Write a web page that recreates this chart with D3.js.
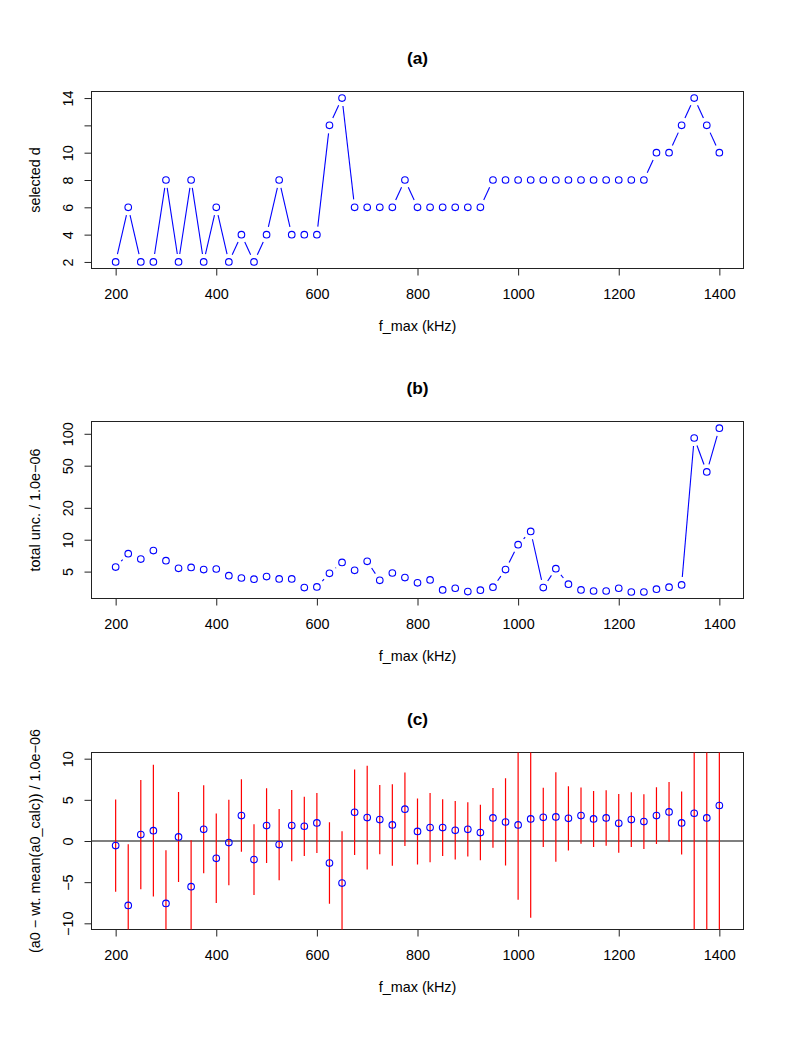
<!DOCTYPE html>
<html>
<head>
<meta charset="utf-8">
<script src="https://cdn.jsdelivr.net/npm/d3@7"></script>
<style>
  body { margin: 0; background: #fff; }
  svg text { font-family: "Liberation Sans", Arial, Helvetica, sans-serif; }
</style>
</head>
<body>
<svg id="chart" width="802" height="1038"></svg>
<script>
// f_max values (kHz)
var fmax = [200,225,250,275,300,325,350,375,400,425,450,475,500,525,550,575,600,625,650,675,
            700,725,750,775,800,825,850,875,900,925,950,975,1000,1025,1050,1075,1100,1125,1150,1175,
            1200,1225,1250,1275,1300,1325,1350,1375,1400];

// (a) selected d
var selectedD = [2,6,2,2,8,2,8,2,6,2, 4,2,4,8,4,4,4,12,14,6,
                 6,6,6,8,6,6,6,6,6,6, 8,8,8,8,8,8,8,8,8,8,
                 8,8,8,10,10,12,14,12,10];

// (b) total unc. / 1.0e-06
var totalUnc = [5.52,7.38,6.56,7.89,6.34,5.37,5.48,5.22,5.29,4.58,
                4.35,4.24,4.49,4.26,4.26,3.53,3.58,4.82,6.11,5.14,
                6.25,4.14,4.85,4.39,3.92,4.17,3.36,3.48,3.24,3.34,
                3.56,5.22,8.97,11.97,3.53,5.33,3.80,3.36,3.28,3.28,
                3.48,3.21,3.21,3.41,3.56,3.74,91.2,43.6,113];

// (c) a0 - wt. mean(a0_calc), / 1.0e-06, and error bar half widths
var resid = [-0.56,-7.82,0.78,1.26,-7.58,0.49,-5.55,1.42,-2.10,-0.19,
             3.09,-2.26,1.87,-0.44,1.87,1.79,2.19,-2.68,-5.11,3.49,
             2.85,2.60,1.95,3.86,1.16,1.63,1.63,1.30,1.42,1.02,
             2.80,2.31,1.95,2.68,2.88,2.92,2.76,3.09,2.68,2.80,
             2.15,2.60,2.36,3.09,3.53,2.19,3.37,2.80,4.31];
var errHalf = [5.6,7.42,6.64,8.0,6.45,5.47,5.64,5.35,5.43,5.2,
               4.4,4.3,4.55,4.33,4.33,3.6,3.65,4.95,6.29,5.2,
               6.3,4.2,4.95,4.46,4.0,4.2,3.45,3.55,3.3,3.37,
               3.63,5.3,9.08,12.0,3.6,5.44,3.9,3.42,3.4,3.37,
               3.57,3.33,3.33,3.45,3.63,3.83,91,44,113];

// tick values / labels
var xTicks = [200,400,600,800,1000,1200,1400];
var aTicks = [2,4,6,8,10,12,14];
var aTickLabels = ["2","4","6","8","10","","14"];
var bTicks = [5,10,20,50,100];
var cTicks = [-10,-5,0,5,10];
var cTickLabels = ["\u221210","\u22125","0","5","10"];

var svg = d3.select("#chart");
var left = 91.5, right = 743.5, ph = 177;
var tops = [91.5, 421.5, 752.5];
var gap = 8;
var fs = 14.4;

var x = d3.scaleLinear().domain([152, 1448]).range([left, right]);

function panel(i, y, ticks, labels, title, ylab) {
    var top = tops[i], bottom = top + ph;
    var g = svg.append("g");

    g.append("clipPath").attr("id", "clip" + i)
        .append("rect").attr("x", left).attr("y", top)
        .attr("width", right - left).attr("height", ph);

    // x axis
    var xa = g.append("g").attr("transform", "translate(0," + bottom + ")")
        .call(d3.axisBottom(x).tickValues(xTicks).tickSize(7)
            .tickFormat(d3.format("d")));
    xa.select(".domain").remove();
    xa.selectAll("line").attr("stroke", "#222");
    xa.selectAll("text").attr("font-size", fs).attr("fill", "#000")
        .attr("y", 30.5).attr("dy", null);

    // y axis
    var ya = g.append("g").attr("transform", "translate(" + left + ",0)")
        .call(d3.axisLeft(y).tickValues(ticks).tickSize(7)
            .tickFormat(function (d, k) { return labels[k]; }));
    ya.select(".domain").remove();
    ya.selectAll("line").attr("stroke", "#222");
    ya.selectAll("text").attr("font-size", fs).attr("fill", "#000")
        .attr("x", null)
        .attr("text-anchor", "middle")
        .attr("transform", "translate(-24,0) rotate(-90)")
        .attr("dy", "0.35em");

    g.append("rect").attr("x", left).attr("y", top)
        .attr("width", right - left).attr("height", ph)
        .attr("fill", "none").attr("stroke", "#222").attr("stroke-width", 1);

    g.append("text").attr("x", (left + right) / 2).attr("y", top - 28)
        .attr("text-anchor", "middle").attr("font-size", fs * 1.2)
        .attr("font-weight", "bold").text(title);

    g.append("text").attr("x", (left + right) / 2).attr("y", bottom + 62.5)
        .attr("text-anchor", "middle").attr("font-size", fs).text("f_max (kHz)");

    g.append("text")
        .attr("transform", "translate(39.5," + ((top + bottom) / 2) + ") rotate(-90)")
        .attr("text-anchor", "middle").attr("font-size", fs).text(ylab);

    return g;
}

// type "b": segments between points with a gap round each point
function drawB(g, vals, y) {
    var pts = fmax.map(function (f, k) { return [x(f), y(vals[k])]; });
    var segs = [];
    for (var k = 0; k < pts.length - 1; k++) {
        var p = pts[k], q = pts[k + 1];
        var dx = q[0] - p[0], dy = q[1] - p[1], d = Math.sqrt(dx * dx + dy * dy);
        if (d > 2 * gap) {
            var t = gap / d;
            segs.push([p[0] + dx * t, p[1] + dy * t, q[0] - dx * t, q[1] - dy * t]);
        }
    }
    g.append("g").selectAll("line").data(segs).enter().append("line")
        .attr("x1", function (s) { return s[0]; })
        .attr("y1", function (s) { return s[1]; })
        .attr("x2", function (s) { return s[2]; })
        .attr("y2", function (s) { return s[3]; })
        .attr("stroke", "#0000ff").attr("stroke-width", 1.1);
    drawPts(g, vals, y);
}

function drawPts(g, vals, y) {
    g.append("g").selectAll("circle").data(fmax).enter().append("circle")
        .attr("cx", function (f) { return x(f); })
        .attr("cy", function (f, k) { return y(vals[k]); })
        .attr("r", 3.3)
        .attr("fill", "none").attr("stroke", "#0000ff").attr("stroke-width", 1.1);
}

// (a)
var ya = d3.scaleLinear().domain([1.52, 14.48]).range([tops[0] + ph, tops[0]]);
var ga = panel(0, ya, aTicks, aTickLabels, "(a)", "selected d");
drawB(ga, selectedD, ya);

// (b)
var yb = d3.scaleLog().domain([Math.pow(10, 0.445), Math.pow(10, 2.116)]).range([tops[1] + ph, tops[1]]);
var gb = panel(1, yb, bTicks, bTicks.map(String), "(b)", "total unc. / 1.0e\u221206");
drawB(gb, totalUnc, yb);

// (c)
var yc = d3.scaleLinear().domain([-10.75, 10.75]).range([tops[2] + ph, tops[2]]);
var gc = panel(2, yc, cTicks, cTickLabels, "(c)", "(a0 \u2212 wt. mean(a0_calc)) / 1.0e\u221206");
var inner = gc.append("g").attr("clip-path", "url(#clip2)");
inner.append("line").attr("x1", left).attr("x2", right)
    .attr("y1", yc(0)).attr("y2", yc(0))
    .attr("stroke", "#555").attr("stroke-width", 1.6);
inner.append("g").selectAll("line").data(fmax).enter().append("line")
    .attr("x1", function (f) { return x(f); })
    .attr("x2", function (f) { return x(f); })
    .attr("y1", function (f, k) { return yc(resid[k] - errHalf[k]); })
    .attr("y2", function (f, k) { return yc(resid[k] + errHalf[k]); })
    .attr("stroke", "#ff0000").attr("stroke-width", 1.2);
drawPts(gc, resid, yc);
</script>
</body>
</html>
